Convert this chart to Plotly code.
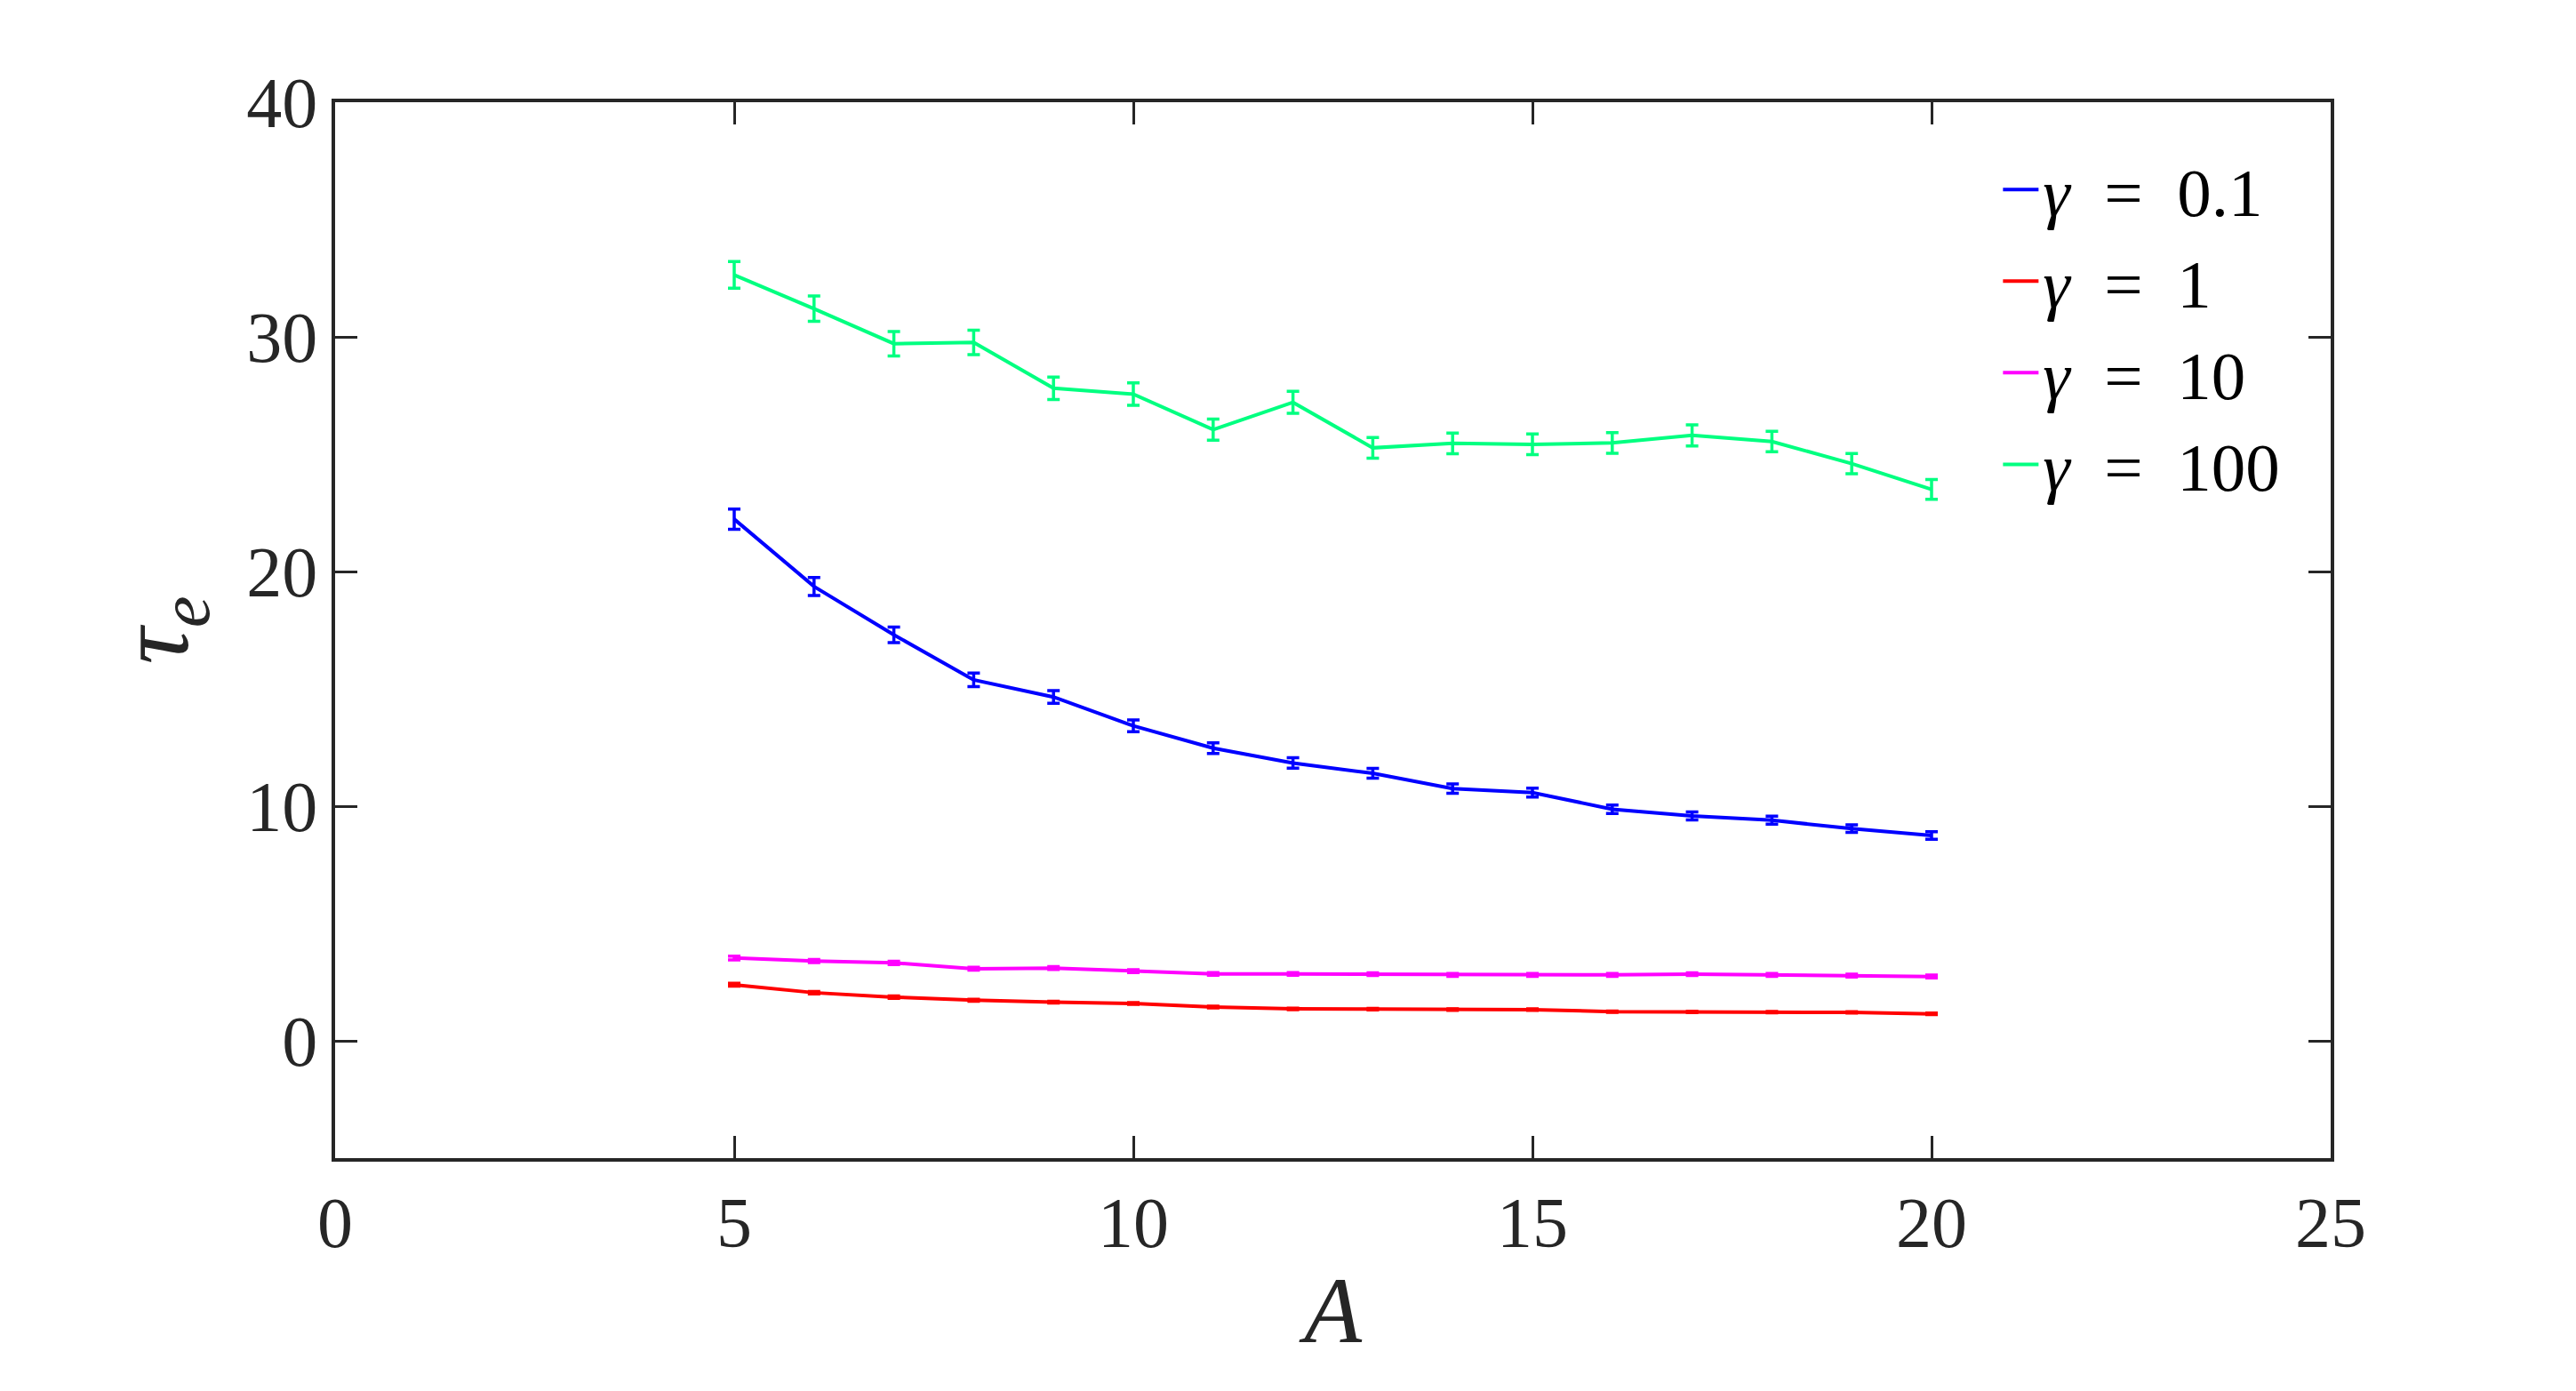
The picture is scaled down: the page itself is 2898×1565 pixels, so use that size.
import plotly.graph_objects as go

A = list(range(5, 21))

tau_g01 = [22.23, 19.36, 17.30, 15.38, 14.65, 13.42, 12.47, 11.84, 11.40, 10.75, 10.58, 9.87, 9.58, 9.40, 9.04, 8.75]
err_g01 = [0.43, 0.38, 0.33, 0.29, 0.27, 0.25, 0.23, 0.22, 0.21, 0.20, 0.19, 0.18, 0.17, 0.17, 0.16, 0.16]

tau_g1 = [2.39, 2.05, 1.86, 1.73, 1.65, 1.59, 1.44, 1.36, 1.35, 1.33, 1.33, 1.24, 1.23, 1.22, 1.21, 1.15]
err_g1 = [0.06, 0.05, 0.05, 0.04, 0.04, 0.04, 0.04, 0.03, 0.03, 0.03, 0.03, 0.03, 0.03, 0.03, 0.03, 0.03]

tau_g10 = [3.53, 3.40, 3.32, 3.07, 3.10, 2.97, 2.85, 2.85, 2.84, 2.81, 2.81, 2.81, 2.84, 2.81, 2.78, 2.74]
err_g10 = [0.08, 0.07, 0.07, 0.06, 0.06, 0.06, 0.06, 0.06, 0.06, 0.06, 0.06, 0.06, 0.06, 0.06, 0.06, 0.06]

tau_g100 = [32.64, 31.20, 29.71, 29.76, 27.81, 27.56, 26.05, 27.21, 25.27, 25.46, 25.42, 25.48, 25.80, 25.54, 24.60, 23.50]
err_g100 = [0.57, 0.54, 0.52, 0.52, 0.48, 0.48, 0.45, 0.47, 0.44, 0.44, 0.44, 0.44, 0.45, 0.44, 0.43, 0.42]

series = [
    ("<i>γ</i>  =  0.1", tau_g01, err_g01, "#0000FF"),
    ("<i>γ</i>  =  1", tau_g1, err_g1, "#FF0000"),
    ("<i>γ</i>  =  10", tau_g10, err_g10, "#FF00FF"),
    ("<i>γ</i>  =  100", tau_g100, err_g100, "#00FF80"),
]

x_ticks = [0, 5, 10, 15, 20, 25]
y_ticks = [0, 10, 20, 30, 40]

FONT = "Liberation Serif"
AXCOL = "#262626"

fig = go.Figure()
for name, y, e, c in series:
    fig.add_trace(go.Scatter(
        x=A, y=y, name=name, mode="lines",
        line=dict(color=c, width=4),
        error_y=dict(type="data", array=e, visible=True, color=c, thickness=3.5, width=7),
    ))

axis_common = dict(
    showline=True, linecolor=AXCOL, linewidth=3.5, mirror="ticks",
    ticks="inside", ticklen=25, tickwidth=2.5, tickcolor=AXCOL,
    showgrid=False, zeroline=False,
    tickfont=dict(family=FONT, size=80, color=AXCOL),
)

fig.update_layout(
    width=2898, height=1565,
    paper_bgcolor="white", plot_bgcolor="white",
    margin=dict(l=377, r=276, t=115, b=262),
    xaxis=dict(range=[0, 25], tickvals=x_ticks,
               title=dict(text="<i>A</i>", font=dict(family=FONT, size=106, color=AXCOL), standoff=18),
               **axis_common),
    yaxis=dict(range=[-5, 40], tickvals=y_ticks,
               title=dict(text="<i>τ</i><sub><i>e</i></sub>", font=dict(family=FONT, size=115, color=AXCOL), standoff=28),
               **axis_common),
    legend=dict(x=0.977, y=0.965, xanchor="right", yanchor="top",
                font=dict(family=FONT, size=77, color="black"),
                bgcolor="rgba(0,0,0,0)", borderwidth=0, itemwidth=40,
                tracegroupgap=0),
    showlegend=True,
)

fig.write_html("out.html")
